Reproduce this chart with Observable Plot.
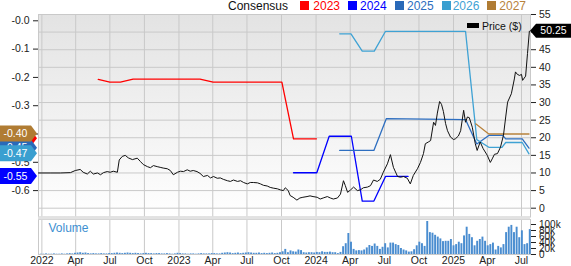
<!DOCTYPE html>
<html><head><meta charset="utf-8">
<script src="https://cdn.jsdelivr.net/npm/d3@7"></script>
<script src="https://cdn.jsdelivr.net/npm/@observablehq/plot@0.6"></script>
<style>
body{margin:0;background:#fff;}
#chart{position:relative;width:571px;height:266px;overflow:hidden;font-family:"Liberation Sans",Arial,sans-serif;}
#chart svg{position:absolute;left:0;top:0;}
.leg{position:absolute;font-size:12px;line-height:12px;white-space:nowrap;top:0px;}
.sq{position:absolute;width:9px;height:9px;top:1px;}
</style></head><body><div id="chart"></div>
<script>
// ---------- data ----------
const xTickDates = ["2022-01-01","2022-04-01","2022-07-01","2022-10-01","2023-01-01","2023-04-01","2023-07-01","2023-10-01","2024-01-01","2024-04-01","2024-07-01","2024-10-01","2025-01-01","2025-04-01","2025-07-01"];
const xTickLabels = ["2022","Apr","Jul","Oct","2023","Apr","Jul","Oct","2024","Apr","Jul","Oct","2025","Apr","Jul"];
const priceTicks = [0,5,10,15,20,25,30,35,40,45,50,55];
const epsTicks = [-0.6,-0.5,-0.4,-0.3,-0.2,-0.1,0];
const epsTickLabels = ["-0.6","-0.5","-0.4","-0.3","-0.2","-0.1","-0.0"];
const volTicks = [0,20,40,60,80,100];
const volTickLabels = ["0","20k","40k","60k","80k","100k"];

const consensusYears = ["2023","2024","2025","2026","2027"];
const eps2023 = [["2022-05-31",-0.207],["2022-07-01",-0.217],["2022-07-29",-0.217],["2022-09-01",-0.206],["2023-02-26",-0.206],["2023-04-02",-0.217],["2023-10-02",-0.217],["2023-11-02",-0.417],["2024-01-02",-0.417]];
const eps2024 = [["2023-11-02",-0.537],["2024-01-03",-0.537],["2024-02-05",-0.408],["2024-04-04",-0.408],["2024-05-03",-0.637],["2024-06-03",-0.637],["2024-07-04",-0.55],["2024-09-02",-0.55]];
const eps2025 = [["2024-03-04",-0.458],["2024-06-03",-0.458],["2024-07-06",-0.346],["2025-02-02",-0.349],["2025-03-04",-0.435],["2025-04-05",-0.405],["2025-05-12",-0.405],["2025-05-20",-0.417],["2025-07-03",-0.417],["2025-07-21",-0.45]];
const eps2026 = [["2024-03-04",-0.046],["2024-04-03",-0.046],["2024-05-03",-0.107],["2024-06-04",-0.107],["2024-07-04",-0.037],["2025-02-02",-0.037],["2025-03-04",-0.42],["2025-04-05",-0.447],["2025-05-10",-0.447],["2025-05-20",-0.43],["2025-07-03",-0.43],["2025-07-21",-0.47]];
const eps2027 = [["2025-03-01",-0.364],["2025-04-05",-0.40],["2025-07-21",-0.40]];

const priceSeries = [["2021-12-23",10.0],["2022-01-23",10.0],["2022-02-19",10.0],["2022-03-18",10.1],["2022-03-31",10.7],["2022-04-13",11.0],["2022-04-21",10.2],["2022-05-02",9.7],["2022-05-10",10.5],["2022-05-18",9.7],["2022-05-29",10.0],["2022-06-06",9.5],["2022-06-14",10.1],["2022-06-24",10.4],["2022-07-02",10.2],["2022-07-10",10.5],["2022-07-21",10.2],["2022-07-26",13.7],["2022-08-03",14.7],["2022-08-11",15.0],["2022-08-19",14.3],["2022-08-30",13.8],["2022-09-12",14.2],["2022-09-20",13.3],["2022-09-28",12.4],["2022-10-09",11.8],["2022-10-17",11.5],["2022-10-25",12.1],["2022-11-04",11.8],["2022-11-12",11.6],["2022-11-20",11.4],["2022-12-01",11.2],["2022-12-09",10.7],["2022-12-17",9.5],["2022-12-28",10.2],["2023-01-05",10.5],["2023-01-13",10.4],["2023-01-23",10.9],["2023-01-31",10.5],["2023-02-08",10.7],["2023-02-18",10.4],["2023-02-26",9.9],["2023-03-07",9.0],["2023-03-18",9.3],["2023-03-26",8.6],["2023-04-03",9.0],["2023-04-13",8.5],["2023-04-21",8.6],["2023-04-29",8.2],["2023-05-10",7.8],["2023-05-18",7.6],["2023-05-26",8.0],["2023-06-06",7.6],["2023-06-14",7.8],["2023-06-22",7.3],["2023-07-02",6.9],["2023-07-10",7.3],["2023-07-18",7.3],["2023-07-29",7.2],["2023-08-06",6.9],["2023-08-14",6.5],["2023-08-24",6.3],["2023-09-01",5.9],["2023-09-09",5.7],["2023-09-20",5.5],["2023-09-28",5.2],["2023-10-06",5.0],["2023-10-11",5.8],["2023-10-19",5.0],["2023-10-24",3.6],["2023-11-01",3.1],["2023-11-11",2.3],["2023-11-19",2.9],["2023-11-27",3.1],["2023-12-08",3.3],["2023-12-16",3.5],["2023-12-24",3.3],["2024-01-04",3.1],["2024-01-12",2.6],["2024-01-20",2.9],["2024-01-31",3.3],["2024-02-08",2.9],["2024-02-16",2.6],["2024-02-27",2.9],["2024-03-06",4.0],["2024-03-14",7.8],["2024-03-19",6.4],["2024-03-25",4.5],["2024-04-02",5.2],["2024-04-10",6.0],["2024-04-20",5.0],["2024-04-28",5.2],["2024-05-06",5.8],["2024-05-17",6.0],["2024-05-25",6.4],["2024-06-02",8.0],["2024-06-12",7.6],["2024-06-20",8.2],["2024-06-28",10.2],["2024-07-09",12.6],["2024-07-17",15.2],["2024-07-25",11.6],["2024-08-05",9.0],["2024-08-13",8.8],["2024-08-21",9.0],["2024-08-31",8.5],["2024-09-08",6.9],["2024-09-16",9.3],["2024-09-27",11.2],["2024-10-05",13.0],["2024-10-13",15.5],["2024-10-18",18.3],["2024-10-26",18.8],["2024-11-01",19.2],["2024-11-09",24.4],["2024-11-14",23.5],["2024-11-19",27.0],["2024-11-25",30.3],["2024-11-30",29.5],["2024-12-05",27.5],["2024-12-11",24.0],["2024-12-16",22.0],["2024-12-24",20.2],["2025-01-01",19.5],["2025-01-06",19.7],["2025-01-14",20.5],["2025-01-20",22.0],["2025-01-28",27.8],["2025-02-02",24.4],["2025-02-07",25.9],["2025-02-12",25.7],["2025-02-20",23.0],["2025-02-28",18.3],["2025-03-05",16.4],["2025-03-13",18.8],["2025-03-21",16.9],["2025-04-01",15.0],["2025-04-09",13.0],["2025-04-14",14.0],["2025-04-20",15.3],["2025-04-28",15.5],["2025-05-06",17.3],["2025-05-14",20.7],["2025-05-20",25.9],["2025-05-25",30.1],["2025-06-04",32.5],["2025-06-12",36.7],["2025-06-15",38.7],["2025-06-20",38.0],["2025-06-26",37.7],["2025-07-01",38.0],["2025-07-04",36.3],["2025-07-12",37.5],["2025-07-17",43.9],["2025-07-22",50.25]];

const volumeFirstWeek = "2021-12-27";
const weeklyVolumeK = [
1,1,2,1,1,2,1,1,2,1,2,3,2,4,
5,6,4,5,3,2,3,2,2,3,2,2,3,
3,4,5,4,3,4,5,4,3,4,3,2,3,
4,3,3,2,3,3,2,2,3,2,1,2,4,
3,2,2,1,2,2,1,2,3,2,2,2,3,
3,2,2,4,5,6,5,3,4,5,3,4,5,
6,5,4,4,5,3,4,3,4,5,3,4,6,
9,17,6,12,9,8,15,13,6,5,6,6,5,7,6,9,7,7,8,6,6,3,7,26,36,70,41,17,12,13,12,15,22,30,27,35,27,17,24,36,22,38,38,33,30,20,15,12,8,9,16,29,41,36,27,110,73,71,64,58,52,43,44,44,50,29,33,41,36,62,91,67,56,29,44,50,58,44,29,33,38,15,27,22,33,73,91,97,73,91,56,79,33,36,83];

// ---------- styles ----------
const colors = {"2023":"#ff0000","2024":"#0000ff","2025":"#2d6ec0","2026":"#3fa2d4","2027":"#b8823c"};
const badgeColors = {"2023":"#ff0000","2024":"#0000ff","2025":"#2a69b8","2026":"#3a9fd0","2027":"#b07c33"};
const FONT = '"Liberation Sans", Arial, sans-serif';
const W = 571, H = 266;
const xDomain = [new Date("2021-12-23"), new Date("2025-07-25")];
const M = {marginLeft: 38, marginRight: 41, marginTop: 14, marginBottom: 49.5};
const baseStyle = {background: "transparent", fontFamily: FONT, fontSize: "10.5px", color: "#222", overflow: "visible"};

const tickDates = xTickDates.map(d => new Date(d));
const tickLabelMap = new Map(tickDates.map((d, i) => [+d, xTickLabels[i]]));
const toRows = arr => arr.map(([d, v]) => ({date: new Date(d), v}));
const epsBySeries = {"2023": toRows(eps2023), "2024": toRows(eps2024), "2025": toRows(eps2025), "2026": toRows(eps2026), "2027": toRows(eps2027)};
const priceRows = toRows(priceSeries);
const vol0 = new Date(volumeFirstWeek);
const volRows = weeklyVolumeK.map((v, i) => ({start: d3.utcDay.offset(vol0, 7 * i), end: d3.utcDay.offset(vol0, 7 * i + 7), v}));

const chart = document.getElementById("chart");

// ---------- background / grid / price axis ----------
const bg = Plot.plot({
  width: W, height: H, ...M, style: baseStyle,
  x: {type: "utc", domain: xDomain, axis: null},
  y: {domain: [-2.5, 55], axis: "right", ticks: priceTicks, tickFormat: d => String(d), tickSize: 5, tickPadding: 3.5, label: null},
  marks: [
    Plot.frame({fill: "url(#bggrad)"}),
    Plot.ruleY(priceTicks, {stroke: "#c9c9c9"}),
    Plot.ruleX(tickDates, {stroke: "#c9c9c9"}),
    Plot.frame({stroke: "#c9c9c9"})
  ]
});
d3.select(bg).insert("defs", ":first-child").html('<linearGradient id="bggrad" x1="0" y1="0" x2="0" y2="1"><stop offset="0" stop-color="#e3e3e3"/><stop offset="1" stop-color="#ffffff"/></linearGradient>');
chart.appendChild(bg);

// ---------- volume panel ----------
const volPlot = Plot.plot({
  width: W, height: H, marginLeft: 38, marginRight: 41, marginTop: 219, marginBottom: 12, style: baseStyle,
  x: {type: "utc", domain: xDomain, axis: "bottom", ticks: tickDates, tickFormat: d => tickLabelMap.get(+d), tickSize: 0, tickPadding: 2, label: null},
  y: {domain: [0, 116.7], axis: "right", ticks: volTicks, tickFormat: d => volTickLabels[volTicks.indexOf(d)], tickSize: 5, tickPadding: 3.5, label: null},
  marks: [
    Plot.frame({fill: "#fff", stroke: "#c9c9c9"}),
    Plot.ruleX(tickDates, {stroke: "#c9c9c9"}),
    Plot.rect(volRows, {x1: "start", x2: "end", y1: () => 0, y2: "v", fill: "#4a8dd0", insetLeft: 0.3, insetRight: 0.4}),
    Plot.ruleY([116.7], {stroke: "#e2e2e2", strokeWidth: 3, dy: -1.5}),
    Plot.text(["Volume"], {frameAnchor: "top-left", dx: 10, dy: 4, fill: "#3d8fd1", fontSize: 12, textAnchor: "start", lineAnchor: "top"})
  ]
});
d3.select(volPlot).selectAll('[aria-label="y-axis tick label"] text').attr("font-size", "10px");
chart.appendChild(volPlot);

// ---------- consensus EPS ----------
const epsPlot = Plot.plot({
  width: W, height: H, ...M, style: baseStyle,
  x: {type: "utc", domain: xDomain, axis: null},
  y: {domain: [-0.6933, 0.0223], axis: "left", ticks: epsTicks, tickFormat: d => epsTickLabels[epsTicks.indexOf(d)], tickSize: 5, tickPadding: 4, label: null},
  marks: consensusYears.map(k => Plot.line(epsBySeries[k], {x: "date", y: "v", stroke: colors[k], strokeWidth: 1.3}))
});
const yEps = epsPlot.scale("y");
const badgeOrder = ["2023", "2025", "2024", "2027", "2026"];
const bgG = d3.select(epsPlot).append("g").attr("font-family", FONT).attr("font-size", "10.5px");
badgeOrder.forEach(k => {
  const rows = epsBySeries[k];
  const v = rows[rows.length - 1].v;
  const cy = yEps.apply(v);
  bgG.append("path").attr("d", `M0,${cy - 8}H31L37,${cy}L31,${cy + 8}H0Z`).attr("fill", badgeColors[k]);
  bgG.append("text").attr("x", 15.5).attr("y", cy).attr("dy", "0.35em").attr("text-anchor", "middle").attr("fill", "#fff").text(v.toFixed(2));
});
chart.appendChild(epsPlot);

// ---------- price ----------
const pricePlot = Plot.plot({
  width: W, height: H, ...M, style: baseStyle,
  x: {type: "utc", domain: xDomain, axis: null},
  y: {domain: [-2.5, 55], axis: null},
  marks: [Plot.line(priceRows, {x: "date", y: "v", stroke: "#111", strokeWidth: 1})]
});
const yP = pricePlot.scale("y");
const lastPrice = priceRows[priceRows.length - 1].v;
const py = yP.apply(lastPrice);
const pg = d3.select(pricePlot).append("g").attr("font-family", FONT).attr("font-size", "10.5px");
pg.append("path").attr("d", `M530,${py}L536,${py - 7}H571V${py + 7}H536Z`).attr("fill", "#000");
pg.append("text").attr("x", 553.5).attr("y", py).attr("dy", "0.35em").attr("text-anchor", "middle").attr("fill", "#fff").text(lastPrice.toFixed(2));
chart.appendChild(pricePlot);

// ---------- legends ----------
function addDiv(cls, style, text) {
  const d = document.createElement("div");
  d.className = cls; d.setAttribute("style", style);
  if (text) d.textContent = text;
  chart.appendChild(d);
}
addDiv("leg", "left:228px;color:#111;", "Consensus");
const legSq = [300, 348.3, 395, 441.7, 487.3];
const legTx = [313.3, 360, 407, 452.7, 499.3];
consensusYears.forEach((k, i) => {
  addDiv("sq", `left:${legSq[i]}px;background:${badgeColors[k]};`);
  addDiv("leg", `left:${legTx[i]}px;color:${colors[k]};`, k);
});
addDiv("sq", "left:467px;top:22.5px;width:12px;height:5px;background:#000;");
addDiv("leg", "left:482px;top:20px;font-size:10.5px;color:#111;", "Price ($)");
</script></body></html>
